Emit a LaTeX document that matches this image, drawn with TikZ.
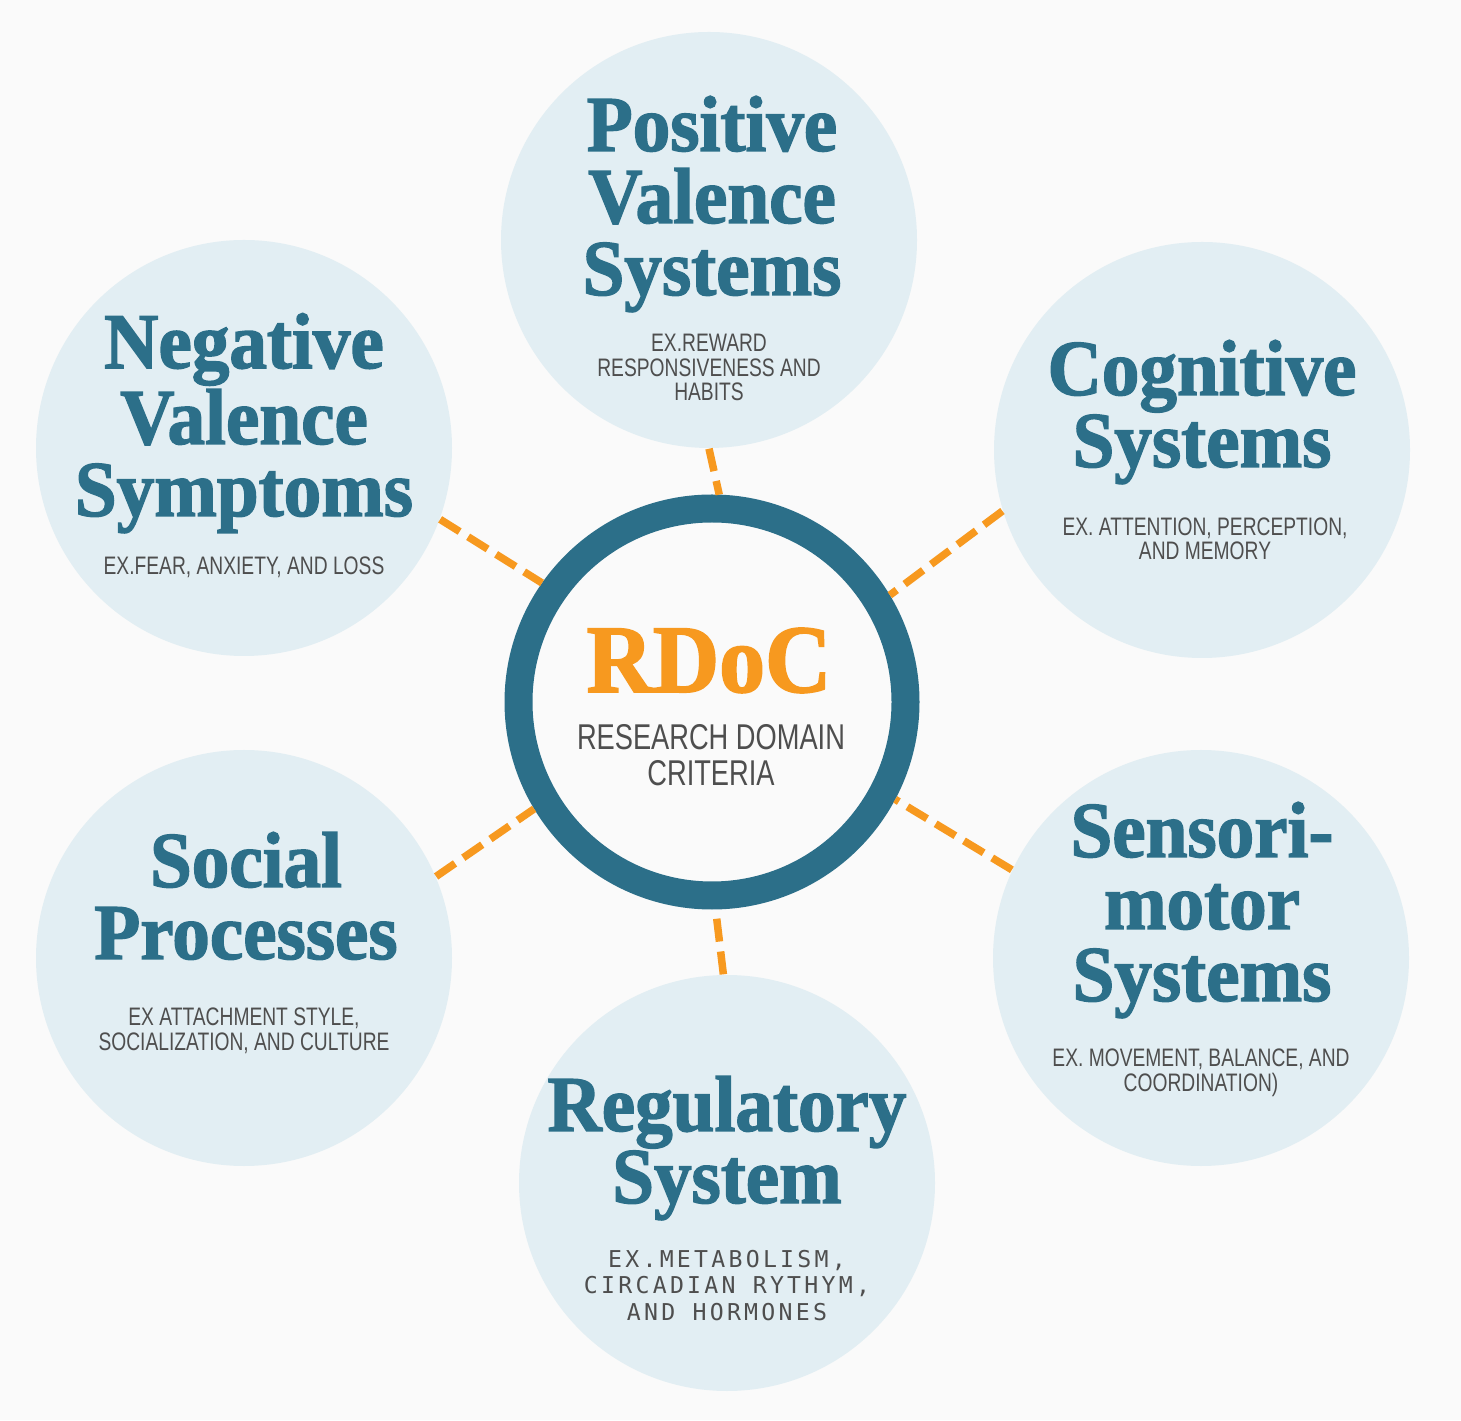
\documentclass[tikz,border=0pt]{standalone}
\usepackage{fontspec}
\usepackage{tikz}
\newfontfamily\titlefont[FakeBold=1.8, FakeStretch=0.95]{Liberation Serif Bold}
\newfontfamily\descfont[FakeStretch=0.76]{Liberation Sans}
\newfontfamily\regfont[LetterSpace=14]{DejaVu Sans Mono}
\definecolor{bgwhite}{HTML}{FAFAFA}
\definecolor{paleblue}{HTML}{E2EEF3}
\definecolor{deepteal}{HTML}{2C6F89}
\definecolor{rdocorange}{HTML}{F7991F}
\definecolor{txtgray}{HTML}{4E4E4E}

\begin{document}
\begin{tikzpicture}[
	domcircle/.style={circle, fill=paleblue, minimum size=4.16cm, inner sep=0pt},
	rdocring/.style={circle, draw=deepteal, line width=0.28cm, fill=bgwhite, minimum size=3.87cm, inner sep=0pt},
	domtitle/.style={anchor=base, align=center, inner sep=0pt, text=deepteal, font=\titlefont\fontsize{22.5}{20.5}\selectfont},
	domdesc/.style={anchor=base, align=center, inner sep=0pt, text=txtgray, font=\descfont\fontsize{7.2}{7}\selectfont},
	dashlink/.style={rdocorange, line width=0.075cm, dash pattern=on 0.23cm off 0.1cm}]
			%%%	Help Lines
%			\draw [thin, help lines] (0,0) grid (14.61,14.2);
			%%%	Sfondo
			\fill[bgwhite] (0,0) rectangle (14.61,14.2);
			\useasboundingbox (0,0) rectangle (14.61,14.2);
			%%%	Cerchi
			\node[domcircle] (pv) at (7.09,11.80) {};
			\node[domcircle] (nv) at (2.44,9.72) {};
			\node[domcircle] (cog) at (12.02,9.70) {};
			\node[domcircle] (soc) at (2.44,4.62) {};
			\node[domcircle] (sen) at (12.01,4.62) {};
			\node[domcircle] (reg) at (7.27,2.37) {};
			\node[rdocring] (rdoc) at (7.12,7.18) {};
			%%%	Collegamenti
			\draw[dashlink] (pv.-90) -- (rdoc.88);
			\draw[dashlink] (nv.-20) -- (rdoc.145);
			\draw[dashlink] (cog.197) -- (rdoc.31);
			\draw[dashlink] (soc.23) -- (rdoc.211);
			\draw[dashlink] (sen.155) -- (rdoc.-28);
			\draw[dashlink] (reg.91) -- (rdoc.-89);
			%%%	Testi (base = ultima riga)
			\node[anchor=base, inner sep=0pt, text=rdocorange, font=\titlefont\fontsize{27.5}{27.5}\selectfont] (rdoct) at (7.09,7.28) {RDoC};
			\node[anchor=base, align=center, inner sep=0pt, text=txtgray, font=\descfont\fontsize{10.2}{9.96}\selectfont] (rdocd) at (7.11,6.35) {RESEARCH DOMAIN\\CRITERIA};
			\node[domtitle] (pvt) at (7.12,11.25) {Positive\\Valence\\Systems};
			\node[domdesc] (pvd) at (7.09,10.19) {EX.REWARD\\RESPONSIVENESS AND\\HABITS};
			\node[domtitle] (nvt) at (2.44,9.04) {Negative\\Valence\\Symptoms};
			\node[domdesc] (nvd) at (2.44,8.45) {EX.FEAR, ANXIETY, AND LOSS};
			\node[domtitle] (cogt) at (12.02,9.53) {Cognitive\\Systems};
			\node[domdesc] (cogd) at (12.05,8.60) {EX. ATTENTION, PERCEPTION,\\AND MEMORY};
			\node[domtitle] (soct) at (2.46,4.61) {Social\\Processes};
			\node[domdesc] (socd) at (2.44,3.70) {EX ATTACHMENT STYLE,\\SOCIALIZATION, AND CULTURE};
			\node[domtitle] (sent) at (12.02,4.19) {Sensori-\\motor\\Systems};
			\node[domdesc] (send) at (12.01,3.29) {EX. MOVEMENT, BALANCE, AND\\COORDINATION)};
			\node[domtitle] (regt) at (7.27,2.17) {Regulatory\\System};
			\node[anchor=base, align=center, inner sep=0pt, text=txtgray, font=\regfont\fontsize{6.6}{7.5}\selectfont] (regd) at (7.27,1.00) {EX.METABOLISM,\\CIRCADIAN RYTHYM,\\AND HORMONES};
		\end{tikzpicture}
\end{document}
